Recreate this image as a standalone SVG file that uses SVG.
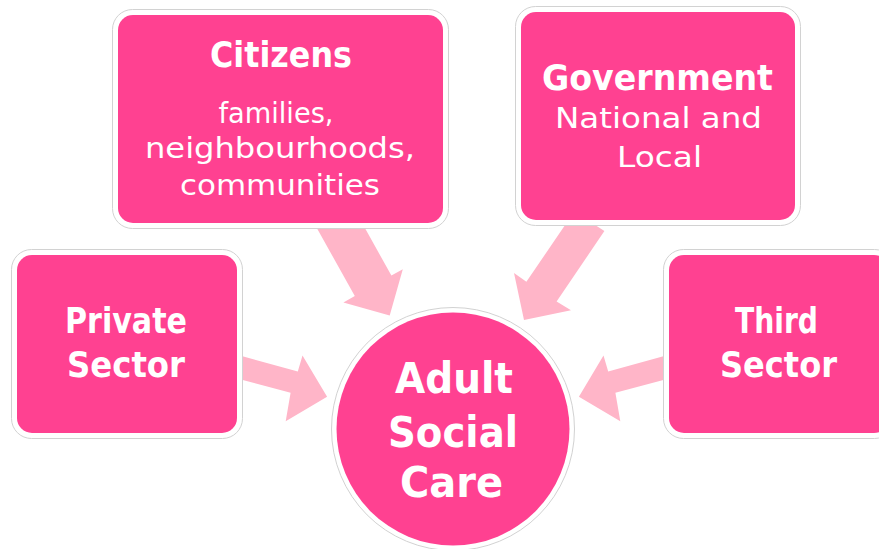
<svg xmlns="http://www.w3.org/2000/svg" width="879" height="549" viewBox="0 0 879 549">
  <style>
    .frame { fill: #ffffff; stroke: #d2d2d2; stroke-width: 1; }
    .box { fill: #ff4191; }
    .arrow { fill: #ffb5c8; }
    .t { fill: #ffffff; font-family: "DejaVu Sans", "Liberation Sans", sans-serif; text-anchor: middle; }
    .b { font-weight: bold; font-size: 35px; }
    .r { font-size: 29px; }
    .big { font-weight: bold; font-size: 43px; }
  </style>
  <rect width="879" height="549" fill="#ffffff"/>
  <g id="connectors">
    <polygon class="arrow" points="312.9,221.0 354.8,296.0 343.4,302.4 389.7,315.5 402.8,269.2 391.4,275.6 349.6,200.5"/>
    <polygon class="arrow" points="574.3,211.5 526.4,281.8 514.0,273.0 524.0,320.1 571.0,310.2 556.6,301.4 604.4,231.1"/>
    <polygon class="arrow" points="207.8,370.8 290.6,392.7 285.7,421.2 327.1,396.8 302.5,355.4 297.8,371.5 218.2,349.6"/>
    <polygon class="arrow" points="698.2,370.8 615.4,392.7 620.3,421.2 578.9,396.8 603.5,355.4 608.2,371.5 687.8,349.6"/>
  </g>
  <g id="citizens">
    <rect class="frame" x="112.5" y="9.5" width="336" height="219" rx="20"/>
    <rect class="box" x="118" y="15" width="325" height="208" rx="15"/>
    <text class="t b" x="281" y="67" textLength="142" lengthAdjust="spacingAndGlyphs">Citizens</text>
    <text class="t r" x="276" y="123" textLength="115" lengthAdjust="spacingAndGlyphs">families,</text>
    <text class="t r" x="280" y="158" textLength="270" lengthAdjust="spacingAndGlyphs">neighbourhoods,</text>
    <text class="t r" x="280" y="195" textLength="200" lengthAdjust="spacingAndGlyphs">communities</text>
  </g>
  <g id="government">
    <rect class="frame" x="515.5" y="6.5" width="285" height="219" rx="20"/>
    <rect class="box" x="521" y="12" width="274" height="208" rx="15"/>
    <text class="t b" x="657.5" y="90" textLength="231" lengthAdjust="spacingAndGlyphs">Government</text>
    <text class="t r" x="658.5" y="128" textLength="207" lengthAdjust="spacingAndGlyphs">National and</text>
    <text class="t r" x="659.5" y="167" textLength="85" lengthAdjust="spacingAndGlyphs">Local</text>
  </g>
  <g id="private-sector">
    <rect class="frame" x="11.5" y="249.5" width="231" height="189" rx="20"/>
    <rect class="box" x="17" y="255" width="220" height="178" rx="15"/>
    <text class="t b" x="126" y="333" textLength="122" lengthAdjust="spacingAndGlyphs">Private</text>
    <text class="t b" x="126" y="377" textLength="118" lengthAdjust="spacingAndGlyphs">Sector</text>
  </g>
  <g id="third-sector">
    <rect class="frame" x="663.5" y="249.5" width="231" height="189" rx="20"/>
    <rect class="box" x="669" y="255" width="220" height="178" rx="15"/>
    <text class="t b" x="776.5" y="333" textLength="83" lengthAdjust="spacingAndGlyphs">Third</text>
    <text class="t b" x="778.5" y="377" textLength="117" lengthAdjust="spacingAndGlyphs">Sector</text>
  </g>
  <g id="adult-social-care">
    <circle class="frame" cx="453" cy="429" r="121.5"/>
    <circle class="box" cx="453" cy="429" r="116.5"/>
    <text class="t big" x="454" y="393" textLength="118" lengthAdjust="spacingAndGlyphs">Adult</text>
    <text class="t big" x="453" y="447" textLength="130" lengthAdjust="spacingAndGlyphs">Social</text>
    <text class="t big" x="451.5" y="497" textLength="103" lengthAdjust="spacingAndGlyphs">Care</text>
  </g>
</svg>
